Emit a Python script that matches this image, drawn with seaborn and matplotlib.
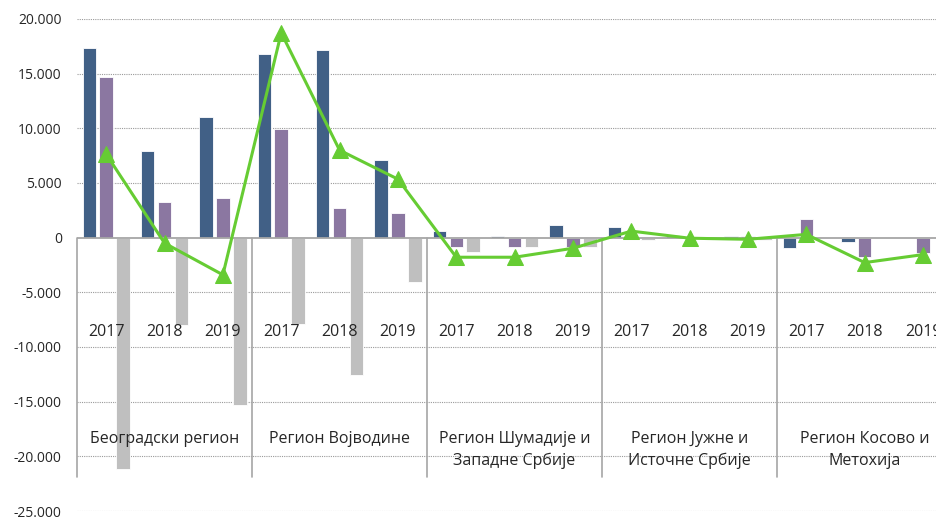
import numpy as np
import pandas as pd
import seaborn as sns
import matplotlib.pyplot as plt
from matplotlib.ticker import FuncFormatter, MultipleLocator

# data
regions = ["Београдски регион", "Регион Војводине", "Регион Шумадије и\nЗападне Србије",
           "Регион Јужне и\nИсточне Србије", "Регион Косово и\nМетохија"]
years = ["2017", "2018", "2019"]

series_1 = [17330, 7970, 11070, 16840, 17180, 7110, 580, 150, 1130, 950, 250, 120, -970, -430, 0]
series_2 = [14690, 3230, 3590, 9980, 2680, 2220, -880, -880, -880, 0, 0, 120, 1700, -1780, -1430]
series_3 = [-21120, -7960, -15270, -7870, -12520, -4100, -1330, -880, -880, -230, 0, -230, 0, 0, 0]
line_vals = [7630, -500, -3400, 18730, 8000, 5350, -1790, -1790, -970, 600, -50, -150, 300, -2280, -1550]

cats = [f"{r}|{y}" for r in regions for y in years]
df = pd.DataFrame({
    "cat": cats * 3,
    "value": series_1 + series_2 + series_3,
    "series": ["s1"] * 15 + ["s2"] * 15 + ["s3"] * 15,
})

sns.set_style("white")
plt.rcParams["font.family"] = ["Open Sans", "DejaVu Sans"]

fig = plt.figure(figsize=(9.36, 5.2), dpi=100)
ax = fig.add_axes([0.0823, 0.0173, 0.935, 0.9462])

sns.barplot(data=df, x="cat", y="value", hue="series", order=cats,
            palette=["#365F91", "#8B70A8", "#BFBFBF"], width=0.87, gap=0.2,
            edgecolor="white", linewidth=0.6, legend=False, ax=ax)
sns.lineplot(x=np.arange(15), y=line_vals, color="#66CC33", linewidth=2.2,
             marker="^", markersize=11, markeredgecolor="#66CC33", ax=ax, zorder=5)

ax.set_ylim(-25000, 20000)
ax.set_xlim(-0.5, 14.5)
ax.yaxis.set_major_locator(MultipleLocator(5000))
ax.yaxis.set_major_formatter(FuncFormatter(lambda v, p: f"{int(v):,}".replace(",", ".")))
ax.tick_params(axis="y", length=0, pad=11, labelsize=10)
ax.set_xticks([])
ax.set_xlabel("")
ax.set_ylabel("")
for s in ax.spines.values():
    s.set_visible(False)
for v in range(-25000, 20001, 5000):
    if v != 0:
        ax.axhline(v, color="#9A9A9A", linestyle=(0, (1, 1)), linewidth=0.8, zorder=0)
ax.axhline(0, color="#A6A6A6", linewidth=1.3, zorder=3)

# category axis: separators, years, regions
for g in range(6):
    ax.plot([g * 3 - 0.5] * 2, [0, -21900], color="#A6A6A6", linewidth=1.2, zorder=3,
            clip_on=False)
for i in range(15):
    ax.text(i, -8600, years[i % 3], ha="center", va="center", fontsize=11.5, zorder=6)
for g, name in enumerate(regions):
    ax.text(g * 3 + 1, -17700, name, ha="center", va="top", fontsize=11.5,
            linespacing=1.45, zorder=6)

fig.savefig("out.png", dpi=100)
